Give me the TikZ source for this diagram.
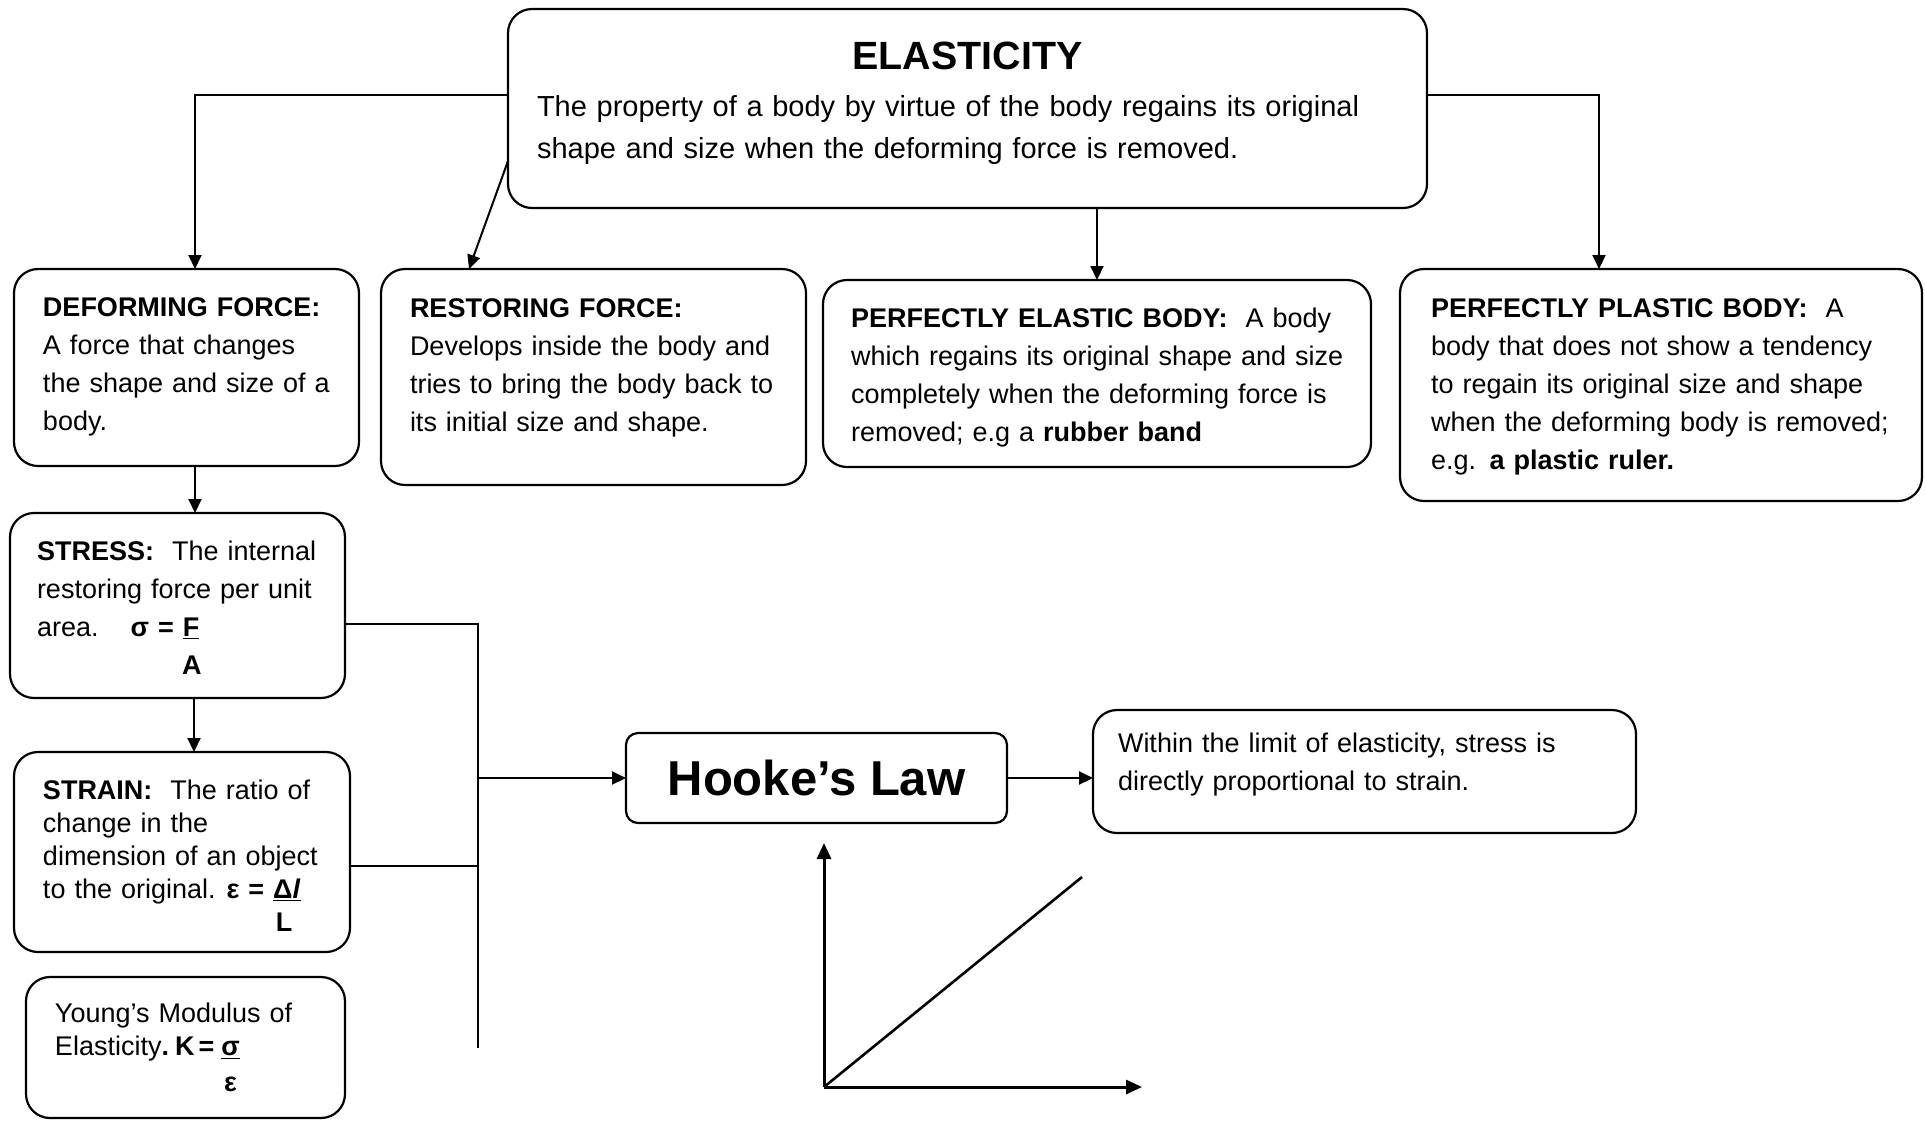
\documentclass[tikz,border=0pt]{standalone}
\usepackage{fontspec}
\setmainfont{Liberation Sans}
\usetikzlibrary{arrows.meta,positioning}

\newcommand{\bodyfont}{\fontsize{13.5pt}{19pt}\selectfont}
\newcommand{\tightfont}{\fontsize{13.5pt}{16.5pt}\selectfont}

\begin{document}
\begin{tikzpicture}[
  x=0.5pt, y=-0.5pt,
  box/.style={draw, line width=1.1pt, rounded corners=12pt, anchor=north west, align=left,
    inner xsep=9pt, inner ysep=0pt, outer sep=0pt, font=\bodyfont},
  lead/.style={execute at begin node={\leftskip=#1\relax}},
  lawbox/.style={draw, line width=1.1pt, rounded corners=6pt, inner sep=0pt, outer sep=0pt,
    minimum width=190.5pt, minimum height=45pt, font=\fontsize{24.5pt}{28pt}\selectfont\bfseries},
  line/.style={line width=1pt},
  arr/.style={-{Triangle[length=7pt,width=6.5pt]}, line width=1pt},
  axis/.style={-{Triangle[length=8pt,width=7pt]}, line width=1.5pt}
]
\fill[white] (0,0) rectangle (1926,1121);
\useasboundingbox (0,0) rectangle (1926,1121);

\node[box, lead=5.5pt, text width=441.5pt, text height=30pt, text depth=69.5pt,
  font=\fontsize{14.5pt}{21pt}\selectfont] (top) at (508,9)
  {\makebox[\dimexpr\linewidth-11pt\relax]{\fontsize{19.7pt}{24pt}\selectfont\bfseries ELASTICITY}\\[2.5pt]
   The property of a body by virtue of the body regains its original\\
   shape and size when the deforming force is removed.};

\node[box, lead=5.5pt, text width=154.5pt, text height=23.5pt, text depth=75pt] (deform) at (14,269)
  {\textbf{DEFORMING FORCE:}\\ A force that changes\\ the shape and size of a\\ body.};
\node[box, lead=5.5pt, text width=194.5pt, text height=24pt, text depth=84pt] (restore) at (381,269)
  {\textbf{RESTORING FORCE:}\\ Develops inside the body and\\ tries to bring the body back to\\ its initial size and shape.};
\node[box, lead=5pt, text width=256pt, text height=23.5pt, text depth=70pt] (elastic) at (823,280)
  {\textbf{PERFECTLY ELASTIC BODY:}\ \ A body\\ which regains its original shape and size\\
   completely when the deforming force is\\ removed; e.g a \textbf{rubber band}};
\node[box, lead=6.5pt, text width=243pt, text height=24pt, text depth=92pt] (plastic) at (1400,269)
  {\textbf{PERFECTLY PLASTIC BODY:}\ \ A\\ body that does not show a tendency\\
   to regain its original size and shape\\ when the deforming body is removed;\\
   e.g. \textbf{a plastic ruler.}};

\node[box, lead=4.5pt, text width=149.5pt, text height=23.5pt, text depth=69pt] (stress) at (10,513)
  {\textbf{STRESS:}\ \ The internal\\ restoring force per unit\\
   area.\hspace{16pt}\textbf{σ = \underline{F}}\\ \hspace*{72.5pt}\textbf{A}};
\node[box, lead=5.5pt, text width=150pt, text height=23.5pt, text depth=76.5pt, font=\tightfont] (strain) at (14,752)
  {\textbf{STRAIN:}\ \ The ratio of\\ change in the\\ dimension of an object\\
   to the original.\hspace{5.5pt}\textbf{ε = \underline{Δ\textit{l}}}\\ \hspace*{116.5pt}\textbf{L}};
\node[box, lead=5.5pt, text width=141.5pt, text height=22.5pt, text depth=48pt, font=\tightfont] (young) at (26,977)
  {Young’s Modulus of\\ Elasticity\textbf{.\hspace{3pt}K\hspace{2pt}=\hspace{3.5pt}\underline{σ}}\\[1.5pt]
   \hspace*{84.5pt}\textbf{ε}};

\node[lawbox] (hooke) at (816.5,778) {Hooke’s Law};
\node[box, lead=3.5pt, text width=253.5pt, text height=21pt, text depth=40.5pt] (law) at (1093,710)
  {Within the limit of elasticity, stress is\\ directly proportional to strain.};

\draw[arr] ([yshift=6.75pt]top.west) -| ([xshift=4.25pt]deform.north);
\draw[arr] ([yshift=23.5pt]top.south west) -- ([xshift=44pt]restore.north west);
\draw[arr] (top.south -| elastic.north) -- (elastic.north);
\draw[arr] ([yshift=6.75pt]top.east) -| ([xshift=-31pt]plastic.north);
\draw[arr] ([xshift=4.25pt]deform.south) -- ([xshift=4.25pt]deform.south |- stress.north);
\draw[arr] ([xshift=8.25pt]stress.south) -- ([xshift=8.25pt]stress.south |- strain.north);

\coordinate (busend) at (478,1048);
\draw[line] ([yshift=-9.25pt]stress.east) -| (busend);
\draw[line] ([yshift=-7pt]strain.east) -- ([yshift=-7pt]strain.east -| busend);
\draw[arr] (hooke.west -| busend) -- (hooke.west);
\draw[arr] (hooke.east) -- (hooke.east -| law.west);

\coordinate (origin) at (824,1087);
\coordinate (ytip) at (824,843);
\coordinate (xtip) at (1142,1087);
\coordinate (slope) at (1082,877);
\draw[axis] (origin) -- (ytip);
\draw[axis] (origin) -- (xtip);
\draw[line, line width=1.3pt] (origin) -- (slope);
\end{tikzpicture}
\end{document}
